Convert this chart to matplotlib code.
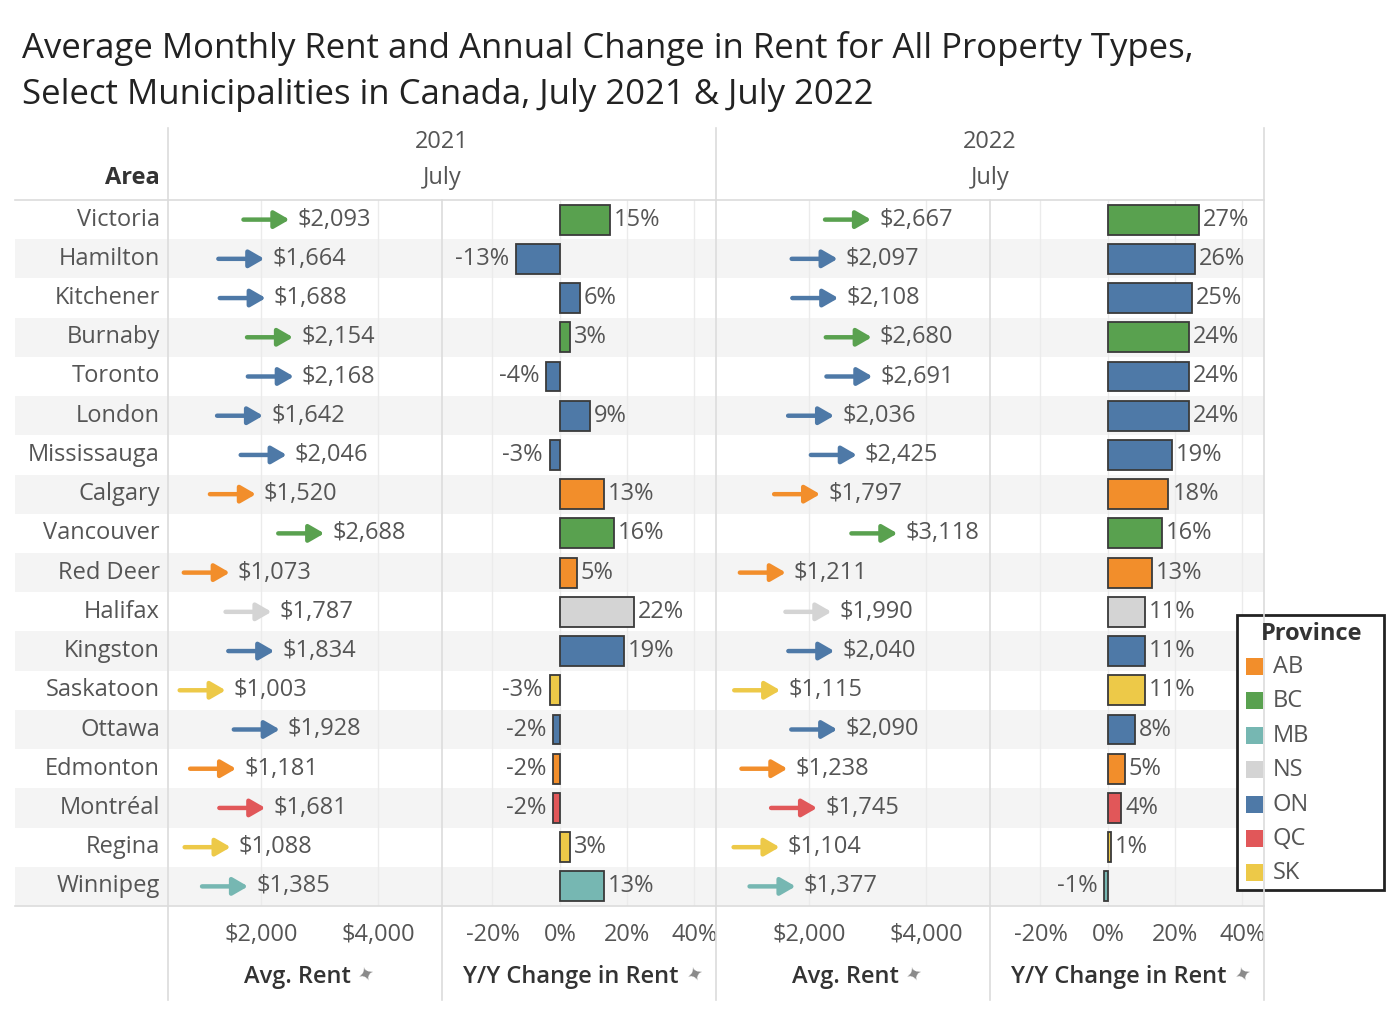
import matplotlib.pyplot as plt
from matplotlib.lines import Line2D
from matplotlib.patches import Rectangle
from matplotlib.transforms import ScaledTranslation

plt.rcParams['font.family'] = ['Open Sans', 'DejaVu Sans']

# data
areas = ['Victoria', 'Hamilton', 'Kitchener', 'Burnaby', 'Toronto', 'London',
         'Mississauga', 'Calgary', 'Vancouver', 'Red Deer', 'Halifax', 'Kingston',
         'Saskatoon', 'Ottawa', 'Edmonton', 'Montréal', 'Regina', 'Winnipeg']
provinces = ['BC', 'ON', 'ON', 'BC', 'ON', 'ON', 'ON', 'AB', 'BC', 'AB', 'NS', 'ON',
             'SK', 'ON', 'AB', 'QC', 'SK', 'MB']
rent_2021 = [2093, 1664, 1688, 2154, 2168, 1642, 2046, 1520, 2688, 1073, 1787, 1834,
             1003, 1928, 1181, 1681, 1088, 1385]
change_2021 = [15, -13, 6, 3, -4, 9, -3, 13, 16, 5, 22, 19, -3, -2, -2, -2, 3, 13]
rent_2022 = [2667, 2097, 2108, 2680, 2691, 2036, 2425, 1797, 3118, 1211, 1990, 2040,
             1115, 2090, 1238, 1745, 1104, 1377]
change_2022 = [27, 26, 25, 24, 24, 24, 19, 18, 16, 13, 11, 11, 11, 8, 5, 4, 1, -1]

province_names = ['AB', 'BC', 'MB', 'NS', 'ON', 'QC', 'SK']
province_colors = ['#F28E2B', '#59A14F', '#76B7B2', '#D4D4D4', '#4E79A7', '#E15759', '#EDC948']
color_of = dict(zip(province_names, province_colors))
colors = [color_of[p] for p in provinces]

W, H = 1400, 1017
TXT = '#555555'
LINE = '#dcdcdc'
FS = 17

fig = plt.figure(figsize=(14, 10.17), dpi=100)


def fx(px):
    return px / W


def fy(py):
    return 1 - py / H


def px_axes(x0, x1, y0=200, y1=906):
    return fig.add_axes([fx(x0), fy(y1), fx(x1) - fx(x0), (y1 - y0) / H])


n = len(areas)

# background with row bands and row labels
bg = px_axes(15, 1264)
bg.set_xlim(15, 1264)
bg.set_ylim(n - 0.5, -0.5)
bg.axis('off')
for i in range(n):
    if i % 2 == 1:
        bg.axhspan(i - 0.5, i + 0.5, color='#f4f4f4', lw=0)
    bg.text(160, i, areas[i], ha='right', va='center', fontsize=FS, color=TXT)


def shift(ax, dx):
    return ax.transData + ScaledTranslation(dx / 100, 0, fig.dpi_scale_trans)


def style_axis(ax):
    ax.set_facecolor('none')
    ax.set_ylim(n - 0.5, -0.5)
    ax.set_yticks([])
    ax.grid(axis='x', color='#ebebeb', lw=1)
    ax.set_axisbelow(True)
    for s in ax.spines.values():
        s.set_visible(False)
    ax.tick_params(axis='x', length=0, pad=12, labelsize=FS, labelcolor=TXT)


def rent_panel(x0, x1, values):
    ax = px_axes(x0, x1)
    style_axis(ax)
    ax.set_xlim(410, 5094)
    ax.set_xticks([2000, 4000])
    ax.set_xticklabels(['$2,000', '$4,000'])
    for i, v in enumerate(values):
        ax.annotate('', xy=(v, i), xycoords=shift(ax, 23), xytext=(v, i),
                    textcoords=shift(ax, -23),
                    arrowprops=dict(arrowstyle='-|>,head_length=0.45,head_width=0.26',
                                    color=colors[i], lw=3.2, mutation_scale=20,
                                    shrinkA=0, shrinkB=0))
        ax.text(v, i, f'${v:,}', transform=shift(ax, 31), ha='left', va='center',
                fontsize=FS, color=TXT)
    return ax


def change_panel(x0, x1, values):
    ax = px_axes(x0, x1)
    style_axis(ax)
    ax.set_xlim(-35, 46.4)
    ax.set_xticks([-20, 0, 20, 40])
    ax.set_xticklabels(['-20%', '0%', '20%', '40%'])
    ax.barh(range(n), values, height=0.76, color=colors, edgecolor='#3a3a3a', lw=1.3)
    for i, v in enumerate(values):
        if v >= 0:
            ax.text(v, i, f'{v}%', transform=shift(ax, 4), ha='left', va='center',
                    fontsize=FS, color=TXT)
        else:
            ax.text(v, i, f'{v}%', transform=shift(ax, -7), ha='right', va='center',
                    fontsize=FS, color=TXT)
    return ax


rent_panel(168, 442, rent_2021)
change_panel(442, 716, change_2021)
rent_panel(716, 990, rent_2022)
change_panel(990, 1264, change_2022)


def line(x0, y0, x1, y1):
    fig.add_artist(Line2D([fx(x0), fx(x1)], [fy(y0), fy(y1)], color=LINE, lw=1.2))


line(15, 200, 1264, 200)
line(15, 906, 1264, 906)
for x in [168, 716, 1264]:
    line(x, 128, x, 1000)
for x in [442, 990]:
    line(x, 200, x, 1000)

# headers
for xc, yr in [(442, '2021'), (990, '2022')]:
    fig.text(fx(xc), fy(142), yr, ha='center', va='center', fontsize=FS, color=TXT)
    fig.text(fx(xc), fy(178), 'July', ha='center', va='center', fontsize=FS, color=TXT)
fig.text(fx(160), fy(178), 'Area', ha='right', va='center', fontsize=FS,
         color='#333333', fontweight='bold')

# axis titles with the little pin mark
for xc, lab in [(305, 'Avg. Rent'), (579, 'Y/Y Change in Rent'),
                (853, 'Avg. Rent'), (1127, 'Y/Y Change in Rent')]:
    t = fig.text(fx(xc - 8), fy(977), lab, ha='center', va='center', fontsize=FS,
                 color='#333333', fontweight='semibold')
    fig.canvas.draw()
    bb = t.get_window_extent()
    fig.text(fx(bb.x1 + 5), fy(975), '✦', ha='left', va='center', fontsize=14,
             color='#8a8a8a', rotation=20)

# title
fig.text(fx(22), fy(48), 'Average Monthly Rent and Annual Change in Rent for All Property Types,',
         ha='left', va='center', fontsize=25, color='#222222')
fig.text(fx(22), fy(95), 'Select Municipalities in Canada, July 2021 & July 2022',
         ha='left', va='center', fontsize=25, color='#222222')

# legend
fig.add_artist(Rectangle((fx(1237), fy(890)), fx(1384) - fx(1237), (890 - 615) / H,
                         facecolor='white', edgecolor='#222222', lw=2))
fig.text(fx(1312), fy(634), 'Province', ha='center', va='center', fontsize=FS,
         color='#333333', fontweight='bold')
for k, (name, c) in enumerate(zip(province_names, province_colors)):
    yc = 667 + k * 34.4
    fig.add_artist(Rectangle((fx(1246), fy(yc + 8)), fx(1263) - fx(1246), 17 / H,
                             facecolor=c, edgecolor='none'))
    fig.text(fx(1273), fy(yc), name, ha='left', va='center', fontsize=FS, color=TXT)

plt.savefig('out.png', dpi=100)
